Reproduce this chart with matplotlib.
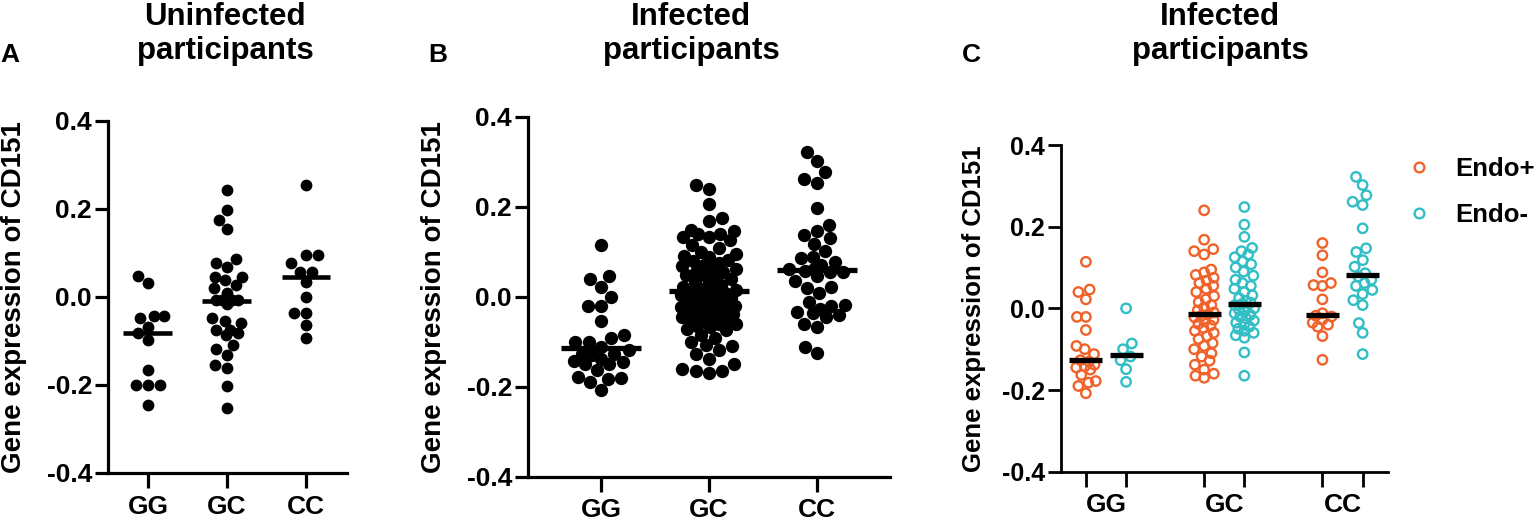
import numpy as np
import matplotlib
matplotlib.use("Agg")
import matplotlib.pyplot as plt
from matplotlib.lines import Line2D

plt.rcParams['font.family'] = ['Liberation Sans', 'DejaVu Sans']
plt.rcParams['font.weight'] = 'bold'

W, H = 1540, 521

genotypes = ['GG', 'GC', 'CC']
ytick_vals = [-0.4, -0.2, 0.0, 0.2, 0.4]
ytick_labels = ['-0.4', '-0.2', '0.0', '0.2', '0.4']
ylabel = 'Gene expression of CD151'

# panel A: uninfected participants
a_gg = [0.047, 0.032, -0.044, -0.044, -0.047, -0.068, -0.083, -0.097, -0.165,
        -0.200, -0.200, -0.200, -0.245]
a_gc = [0.243, 0.198, 0.175, 0.155, 0.087, 0.077, 0.068, 0.045, 0.045, 0.038,
        0.026, 0.019, 0.008, -0.008, -0.008, -0.008, -0.008, -0.017, -0.049,
        -0.054, -0.059, -0.075, -0.075, -0.081, -0.087, -0.109, -0.119, -0.132,
        -0.155, -0.162, -0.202, -0.253]
a_cc = [0.253, 0.094, 0.094, 0.077, 0.057, 0.057, 0.034, 0.000, -0.036, -0.036,
        -0.064, -0.094]
a_center = [-0.083, -0.010, 0.045]

# panel C: infected participants split by endometritis
pos_gg = [0.114, 0.046, 0.040, 0.022, -0.021, -0.021, -0.053, -0.092, -0.100,
          -0.112, -0.127, -0.130, -0.138, -0.142, -0.145, -0.150, -0.163, -0.178,
          -0.182, -0.190, -0.208]
neg_gg = [0.000, -0.086, -0.100, -0.118, -0.127, -0.149, -0.180]
pos_gc = [0.240, 0.168, 0.145, 0.140, 0.132, 0.095, 0.088, 0.082, 0.075, 0.068,
          0.062, 0.055, 0.048, 0.040, 0.030, 0.022, 0.015, 0.008, 0.002, -0.005,
          -0.010, -0.015, -0.018, -0.022, -0.028, -0.032, -0.038, -0.042, -0.048,
          -0.055, -0.060, -0.068, -0.075, -0.085, -0.092, -0.100, -0.110, -0.118,
          -0.128, -0.138, -0.150, -0.160, -0.165, -0.170]
neg_gc = [0.248, 0.205, 0.175, 0.148, 0.140, 0.132, 0.125, 0.115, 0.108, 0.100,
          0.090, 0.080, 0.070, 0.062, 0.055, 0.048, 0.040, 0.032, 0.025, 0.018,
          0.014, 0.011, 0.008, 0.004, 0.000, -0.004, -0.008, -0.012, -0.016,
          -0.020, -0.025, -0.030, -0.035, -0.040, -0.045, -0.050, -0.055, -0.060,
          -0.066, -0.072, -0.108, -0.165]
pos_cc = [0.160, 0.130, 0.088, 0.062, 0.057, 0.055, 0.022, -0.012, -0.018, -0.020,
          -0.028, -0.035, -0.040, -0.045, -0.068, -0.126]
neg_cc = [0.322, 0.302, 0.277, 0.261, 0.253, 0.196, 0.147, 0.138, 0.118, 0.102,
          0.086, 0.078, 0.070, 0.062, 0.055, 0.045, 0.035, 0.020, 0.008, -0.036,
          -0.060, -0.112]
pos_center = [-0.127, -0.015, -0.016]
neg_center = [-0.115, 0.011, 0.082]
group_names = ['Endo+', 'Endo-']
ORANGE = '#F0622A'
TEAL = '#31BEC4'

# panel B: all infected participants
b_center = [-0.113, 0.013, 0.059]


def px_rect(left, right, top, bottom):
    return [left / W, 1 - bottom / H, (right - left) / W, (bottom - top) / H]


def swarm(values, center, ppx, ppy, diam, max_half):
    ys = np.asarray(values, dtype=float) * ppy
    xs = np.zeros(len(ys))
    placed = []
    for i in np.argsort(ys):
        d = diam
        while True:
            forbidden = []
            for px, py in placed:
                dy = abs(ys[i] - py)
                if dy < d:
                    w = np.sqrt(d * d - dy * dy)
                    forbidden.append((px - w, px + w))
            cands = sorted([0.0] + [v for iv in forbidden for v in iv], key=abs)
            best = 0.0
            for c in cands:
                if all(not (lo + 1e-6 < c < hi - 1e-6) for lo, hi in forbidden):
                    best = c
                    break
            if abs(best) <= max_half or d < diam * 0.3:
                break
            d *= 0.85
        xs[i] = best
        placed.append((best, ys[i]))
    return center + xs / ppx


def style_axis(ax, xlim, lw, ytsize):
    ax.set_xlim(*xlim)
    ax.set_ylim(-0.4, 0.4)
    ax.set_yticks(ytick_vals)
    ax.set_yticklabels(ytick_labels, fontsize=ytsize, fontweight='bold')
    ax.spines['top'].set_visible(False)
    ax.spines['right'].set_visible(False)
    ax.spines['left'].set_linewidth(lw)
    ax.spines['bottom'].set_linewidth(lw)
    ax.tick_params(axis='y', length=9.5, width=lw, pad=2)
    ax.tick_params(axis='x', length=10.5, width=lw, pad=5)
    ax.patch.set_visible(False)


def pixels_per_unit(ax):
    bb = ax.get_position()
    x0, x1 = ax.get_xlim()
    return bb.width * W / (x1 - x0), bb.height * H / 0.8


fig = plt.figure(figsize=(W / 100, H / 100), dpi=100)

# ---------- A ----------
axA = fig.add_axes(px_rect(108, 347, 120.7, 473))
style_axis(axA, (-0.506, 2.519), 2.3, 19)
ppx, ppy = pixels_per_unit(axA)
for k, vals in enumerate([a_gg, a_gc, a_cc]):
    xs = swarm(vals, k, ppx, ppy, 12.0, 16)
    axA.scatter(xs, vals, s=72, color='black', linewidths=0, clip_on=False, zorder=3)
    axA.hlines(a_center[k], k - 0.31, k + 0.31, color='black', lw=3.3, zorder=4)
axA.set_xticks(range(3))
axA.set_xticklabels(genotypes, fontsize=19, fontweight='bold')
axA.set_ylabel(ylabel, fontsize=20, fontweight='bold')
axA.yaxis.set_label_coords(-0.339, 0.5)

# ---------- B ----------
b_data = [pos_gg + neg_gg, pos_gc + neg_gc, pos_cc + neg_cc]
axB = fig.add_axes(px_rect(528, 890, 116.7, 476.7))
style_axis(axB, (-0.676, 2.676), 2.3, 19)
ppx, ppy = pixels_per_unit(axB)
for k, vals in enumerate(b_data):
    xs = swarm(vals, k, ppx, ppy, 13.5, 28)
    axB.scatter(xs, vals, s=92, color='black', linewidths=0, clip_on=False, zorder=3)
    axB.hlines(b_center[k], k - 0.37, k + 0.37, color='black', lw=3.8, zorder=4)
axB.set_xticks(range(3))
axB.set_xticklabels(genotypes, fontsize=19, fontweight='bold')
axB.set_ylabel(ylabel, fontsize=20, fontweight='bold')
axB.yaxis.set_label_coords(-0.224, 0.5)

# ---------- C ----------
axC = fig.add_axes(px_rect(1060.7, 1387.7, 145, 471.7))
style_axis(axC, (-0.383, 2.382), 2.0, 18)
ppx, ppy = pixels_per_unit(axC)
off = 0.17
for k in range(3):
    for sign, vals, col, cen in [(-1, [pos_gg, pos_gc, pos_cc][k], ORANGE, pos_center[k]),
                                 (1, [neg_gg, neg_gc, neg_cc][k], TEAL, neg_center[k])]:
        xc = k + sign * off
        xs = swarm(vals, xc, ppx, ppy, 10.5, 10)
        axC.scatter(xs, vals, s=46, facecolors='none', edgecolors=col,
                    linewidths=1.7, clip_on=False, zorder=3)
        axC.hlines(cen, xc - 0.14, xc + 0.14, color='black', lw=3.8, zorder=4)
axC.set_xticks([k + s * off for k in range(3) for s in (-1, 1)])
axC.set_xticklabels([])
axC.set_xticks(range(3), minor=True)
axC.set_xticklabels(genotypes, minor=True, fontsize=19, fontweight='bold')
axC.tick_params(axis='x', which='minor', length=0, pad=15)
axC.set_ylabel(ylabel, fontsize=18.5, fontweight='bold')
axC.yaxis.set_label_coords(-0.228, 0.5)

handles = [Line2D([], [], marker='o', ls='none', mfc='none', mec=c, mew=1.7, ms=7)
           for c in (ORANGE, TEAL)]
fig.legend(handles, group_names, loc='upper left',
           bbox_to_anchor=(1406 / W, 1 - 157 / H), frameon=False,
           prop={'size': 18.5, 'weight': 'bold'}, handlelength=1.0,
           handletextpad=0.9, labelspacing=0.85, borderpad=0, borderaxespad=0)

# titles and panel letters
titles = ['Uninfected\nparticipants', 'Infected\nparticipants', 'Infected\nparticipants']
title_x = [225, 691, 1220]
letters = ['A', 'B', 'C']
letter_x = [0, 428, 962]
for t, tx, l, lx in zip(titles, title_x, letters, letter_x):
    fig.text(tx / W, 1 - 34 / H, t, ha='center', va='center', fontsize=22.5,
             fontweight='bold', linespacing=1.2)
    fig.text(lx / W, 1 - 62 / H, l, ha='left', va='baseline', fontsize=19,
             fontweight='bold')

fig.savefig('out.png', dpi=100)
